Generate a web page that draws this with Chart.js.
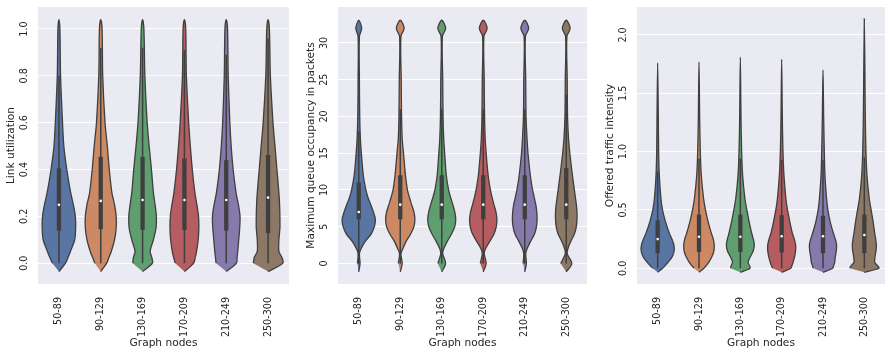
<!DOCTYPE html>
<html>
<head>
<meta charset="utf-8">
<script src="https://cdn.jsdelivr.net/npm/chart.js@4/dist/chart.umd.min.js"></script>
<style>
  body { margin: 0; background: #fff; }
  #wrap { position: relative; width: 889px; height: 354px; }
  canvas { position: absolute; top: 0; }
</style>
</head>
<body>
<div id="wrap">
  <canvas id="linkChart" width="293" height="354" style="left:0px"></canvas>
  <canvas id="queueChart" width="291" height="354" style="left:300px"></canvas>
  <canvas id="trafficChart" width="290" height="354" style="left:599px"></canvas>
</div>
<script>
const categories = ['50-89', '90-129', '130-169', '170-209', '210-249', '250-300'];
const colors = ['#5875a4', '#cc8963', '#5f9e6e', '#b55d60', '#857aab', '#8d7866'];

// violin half-widths, 51 = widest violin
// --- link utilization ---
const linkTicks = [0, 0.2, 0.4, 0.6, 0.8, 1.0];
const linkTickLabels = ['0.0', '0.2', '0.4', '0.6', '0.8', '1.0'];
const linkLevels = [-0.036, 0, 0.025, 0.05, 0.1, 0.15, 0.2, 0.25, 0.3, 0.4, 0.5, 0.6, 0.8, 1.0, 1.04];
const linkWidths = [
    [0, 20, 28, 35, 48, 51, 50, 44, 36, 24, 15, 11, 5, 3, 0],
    [0, 18, 25, 32, 42, 47, 47, 42, 34, 26, 20, 13, 6, 4, 0],
    [0, 30, 28, 23, 33, 41, 42, 38, 33, 27, 20, 14, 7, 4, 0],
    [0, 28, 33, 37, 42, 44, 43, 38, 32, 24, 18, 13, 6, 4, 0],
    [0, 31, 33, 35, 38, 41, 42, 37, 30, 21, 15, 11, 6, 4, 0],
    [0, 45, 42, 33, 33, 36, 36, 35, 33, 27, 21, 15, 7, 4, 0]
];
const linkQ1 = [0.139, 0.145, 0.142, 0.142, 0.139, 0.128];
const linkQ3 = [0.405, 0.454, 0.454, 0.447, 0.44, 0.462];
const linkMedian = [0.249, 0.266, 0.27, 0.27, 0.27, 0.28];
const linkWhiskerHigh = [0.80, 0.92, 0.92, 0.91, 0.89, 0.96];

// --- maximum queue occupancy ---
const queueTicks = [0, 5, 10, 15, 20, 25, 30];
const queueTickLabels = ['0', '5', '10', '15', '20', '25', '30'];
const queueLevels = [-1.15, 0, 1.3, 2, 3, 4, 5, 6, 7, 8, 9, 10, 12, 15, 17, 20, 25, 30.9, 32, 33.1];
const queueWidths = [
    [0, 4, 2, 7, 20, 38, 48, 51, 45, 37, 28, 22, 14, 8, 5, 3, 2, 2, 9, 0],
    [0, 6, 2, 8, 18, 32, 42, 45, 42, 35, 28, 22, 16, 10, 6, 4, 3, 2, 12, 0],
    [0, 12, 3, 6, 17, 30, 40, 43, 40, 34, 27, 21, 14, 9, 6, 4, 3, 2, 12, 0],
    [0, 9, 3, 7, 20, 33, 40, 42, 39, 33, 27, 22, 15, 9, 6, 4, 3, 2, 12, 0],
    [0, 5, 3, 7, 18, 30, 36, 38, 37, 34, 29, 24, 17, 10, 7, 4, 3, 2, 12, 0],
    [0, 17, 3, 5, 14, 25, 31, 33, 33, 31, 28, 25, 19, 11, 7, 4, 3, 2, 12, 0]
];
const queueQ1 = [6, 6, 6, 6, 6, 6];
const queueQ3 = [11, 12, 12, 12, 12, 13];
const queueMedian = [7, 8, 8, 8, 8, 8];
const queueWhiskerHigh = [18, 21, 21, 21, 21, 23];

// --- offered traffic intensity ---
const trafficTicks = [0, 0.5, 1.0, 1.5, 2.0];
const trafficTickLabels = ['0.0', '0.5', '1.0', '1.5', '2.0'];
const trafficLevels = [-0.035, 0, 0.025, 0.05, 0.1, 0.15, 0.2, 0.25, 0.3, 0.4, 0.5, 0.6, 0.8, 1.0, 1.3];
const trafficWidths = [
    [0, 15, 24, 32, 45, 51, 50, 44, 36, 24, 15, 10, 5, 3, 2],
    [0, 15, 23, 30, 40, 46, 47, 44, 38, 28, 20, 14, 7, 4, 2],
    [0, 30, 28, 24, 31, 40, 43, 40, 35, 27, 20, 14, 7, 4, 2],
    [0, 28, 32, 35, 40, 43, 43, 39, 33, 25, 18, 13, 7, 4, 2],
    [0, 30, 33, 36, 38, 41, 42, 38, 32, 22, 15, 11, 6, 4, 2],
    [0, 45, 40, 32, 33, 36, 37, 35, 32, 27, 21, 15, 8, 5, 3]
];
const trafficTops = [1.76, 1.77, 1.81, 1.79, 1.70, 2.14];
const trafficQ1 = [0.13, 0.14, 0.14, 0.135, 0.13, 0.13];
const trafficQ3 = [0.41, 0.46, 0.46, 0.455, 0.45, 0.46];
const trafficMedian = [0.25, 0.27, 0.27, 0.275, 0.275, 0.285];
const trafficWhiskerHigh = [0.83, 0.94, 0.94, 0.93, 0.93, 0.95];

const HALF = 0.4 / 51;
const INK = '#3f3f3f';
const TEXT = '#262626';
const FONT = 'DejaVu Sans';

function violinPoints(i, levels, widths, top) {
    const lv = levels.slice();
    const wd = widths.slice();
    if (top !== undefined) { lv.push(top); wd.push(0); }
    const right = lv.map((y, k) => ({ x: i + wd[k] * HALF, y: y }));
    const left = [];
    for (let k = lv.length - 2; k >= 1; k--) left.push({ x: i - wd[k] * HALF, y: lv[k] });
    return right.concat(left);
}

const panelPlugin = {
    id: 'panelDeco',
    beforeDraw(chart) {
        const a = chart.chartArea;
        const ctx = chart.ctx;
        ctx.save();
        ctx.fillStyle = '#eaeaf2';
        ctx.fillRect(a.left, a.top, a.right - a.left, a.bottom - a.top);
        ctx.restore();
    },
    afterDraw(chart) {
        const s = chart.scales.y;
        const labels = chart.options.plugins.panelDeco.labels;
        const ctx = chart.ctx;
        ctx.save();
        ctx.fillStyle = TEXT;
        ctx.font = '9.6px "' + FONT + '"';
        ctx.textAlign = 'center';
        ctx.textBaseline = 'middle';
        s.ticks.forEach((t, k) => {
            const y = s.getPixelForValue(t.value);
            ctx.save();
            ctx.translate(chart.chartArea.left - 13.5, y);
            ctx.rotate(-Math.PI / 2);
            ctx.fillText(labels[k], 0, 0);
            ctx.restore();
        });
        ctx.restore();
    }
};

function buildPanel(id, p) {
    const datasets = [];
    categories.forEach((c, i) => {
        datasets.push({
            data: [{ x: i, y: p.median[i] }],
            pointRadius: 1.3, pointBackgroundColor: '#ffffff', pointBorderWidth: 0,
            showLine: false, order: 0
        });
        datasets.push({
            data: [{ x: i, y: p.q1[i] }, { x: i, y: p.q3[i] }],
            showLine: true, borderColor: INK, borderWidth: 4.3, borderCapStyle: 'butt',
            pointRadius: 0, order: 1
        });
        datasets.push({
            data: [{ x: i, y: 0 }, { x: i, y: p.whiskerHigh[i] }],
            showLine: true, borderColor: INK, borderWidth: 1.5,
            pointRadius: 0, order: 2
        });
        datasets.push({
            data: violinPoints(i, p.levels, p.widths[i], p.tops ? p.tops[i] : undefined),
            showLine: true, fill: 'shape', backgroundColor: colors[i],
            borderColor: INK, borderWidth: 1.3, tension: 0.3,
            pointRadius: 0, order: 3
        });
    });

    return new Chart(document.getElementById(id), {
        type: 'scatter',
        data: { datasets: datasets },
        plugins: [panelPlugin],
        options: {
            responsive: false,
            animation: false,
            layout: { padding: { top: 7, left: 0, right: 0, bottom: 0 } },
            plugins: {
                legend: { display: false },
                tooltip: { enabled: false },
                panelDeco: { labels: p.tickLabels }
            },
            scales: {
                x: {
                    type: 'linear', min: -0.5, max: 5.5,
                    grid: { display: false },
                    border: { display: false },
                    afterBuildTicks: (s) => { s.ticks = categories.map((c, i) => ({ value: i })); },
                    afterFit: (s) => { s.height = 70; },
                    ticks: {
                        autoSkip: false, minRotation: 90, maxRotation: 90, padding: 5,
                        color: TEXT, font: { family: FONT, size: 9.6 },
                        callback: (v) => categories[v]
                    },
                    title: {
                        display: true, text: 'Graph nodes', color: TEXT,
                        font: { family: FONT, size: 10.6 }, padding: { top: 0, bottom: 4.6 }
                    }
                },
                y: {
                    type: 'linear', min: p.min, max: p.max,
                    grid: { color: '#ffffff', lineWidth: 1.1, drawTicks: false },
                    border: { display: false },
                    afterBuildTicks: (s) => { s.ticks = p.ticks.map(v => ({ value: v })); },
                    afterFit: (s) => { s.width = 38; },
                    ticks: { display: false },
                    title: {
                        display: true, text: p.title, color: TEXT,
                        font: { family: FONT, size: 10.6 }, padding: { top: 4.6, bottom: 0 }
                    }
                }
            }
        }
    });
}

buildPanel('linkChart', {
    title: 'Link utilization', min: -0.089, max: 1.094,
    ticks: linkTicks, tickLabels: linkTickLabels,
    levels: linkLevels, widths: linkWidths,
    q1: linkQ1, q3: linkQ3, median: linkMedian, whiskerHigh: linkWhiskerHigh
});
buildPanel('queueChart', {
    title: 'Maximum queue occupancy in packets', min: -2.8, max: 34.9,
    ticks: queueTicks, tickLabels: queueTickLabels,
    levels: queueLevels, widths: queueWidths,
    q1: queueQ1, q3: queueQ3, median: queueMedian, whiskerHigh: queueWhiskerHigh
});
buildPanel('trafficChart', {
    title: 'Offered traffic intensity', min: -0.135, max: 2.24,
    ticks: trafficTicks, tickLabels: trafficTickLabels,
    levels: trafficLevels, widths: trafficWidths, tops: trafficTops,
    q1: trafficQ1, q3: trafficQ3, median: trafficMedian, whiskerHigh: trafficWhiskerHigh
});
</script>
</body>
</html>
